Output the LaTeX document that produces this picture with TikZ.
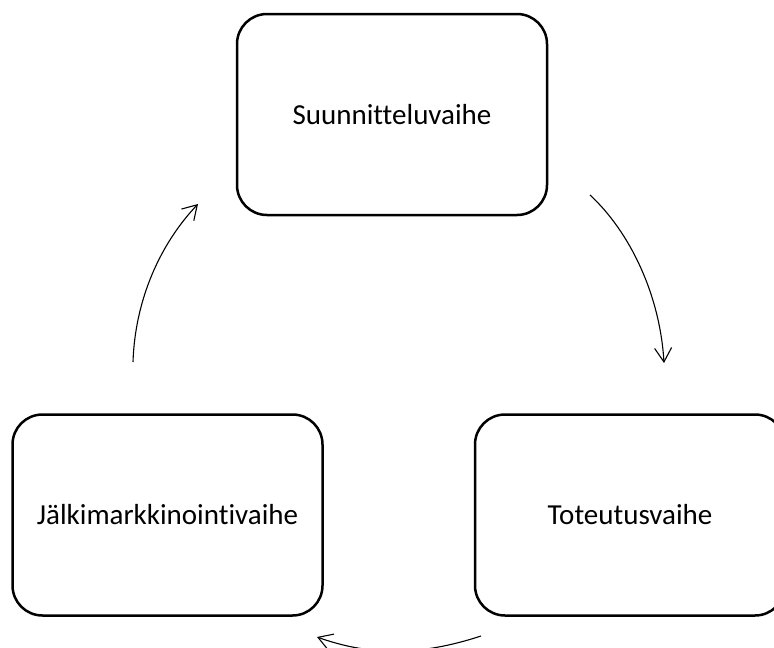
\documentclass[tikz,border=0pt]{standalone}
\usepackage{fontspec}
\setmainfont{Carlito}[Ligatures={NoCommon,NoRare,NoContextual}]
\usetikzlibrary{arrows.meta}
\begin{document}
\begin{tikzpicture}[x=1pt,y=-1pt,
  phase/.style={draw=black, line width=2.5pt, rounded corners=30pt, fill=white,
    minimum width=310pt, minimum height=201pt, inner sep=0pt,
    font=\fontsize{29}{35}\selectfont},
  cycle/.style={draw=black, line width=1.1pt, -{Straight Barb[length=14pt,width=17pt,line width=1.1pt]}}]
\fill[white] (0,0) rectangle (774,648);
\useasboundingbox (0,0) rectangle (774,648);
\node[phase] (plan) at (392,114.5) {Suunnitteluvaihe};
\node[phase] (toteutus) at (630,515) {Toteutusvaihe};
\node[phase] (jalki) at (167.5,515) {Jälkimarkkinointivaihe};
\coordinate (a1s) at (590,195);
\coordinate (a1e) at (664,363);
\coordinate (a2s) at (481,636);
\coordinate (a2e) at (317,637);
\coordinate (a3s) at (133,362);
\coordinate (a3e) at (198,204);
\draw[cycle] (a1s) .. controls (630,232) and (660,295) .. (a1e);
\draw[cycle] (a2s) .. controls (420,656) and (370,656) .. (a2e);
\draw[cycle] (a3s) .. controls (135,300) and (160,244) .. (a3e);
\end{tikzpicture}
\end{document}
